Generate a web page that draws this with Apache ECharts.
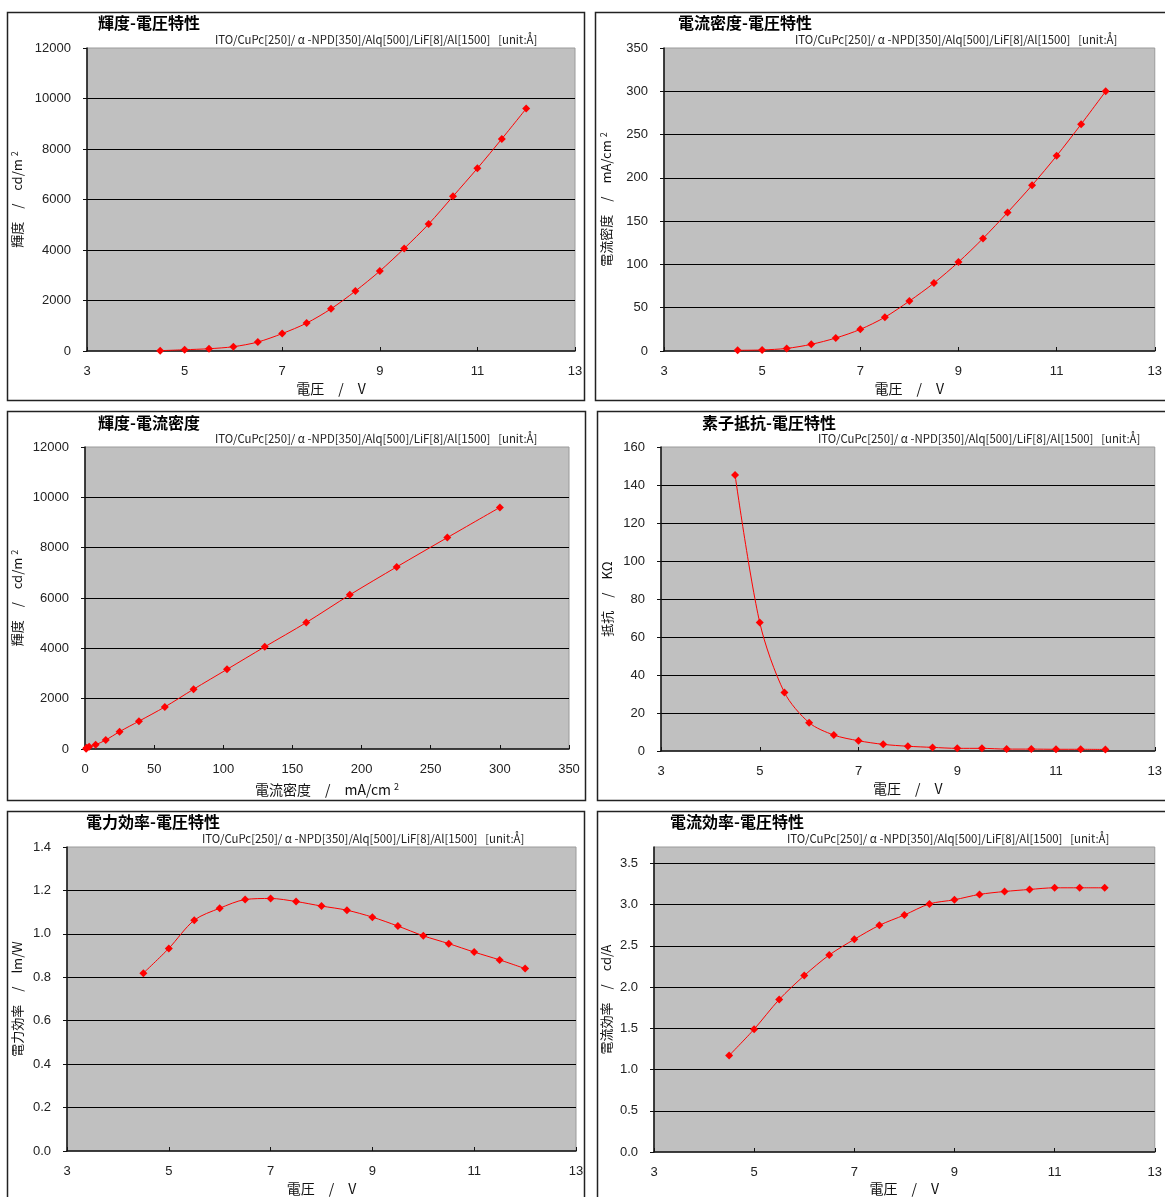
<!DOCTYPE html>
<html><head><meta charset="utf-8">
<script src="https://cdn.jsdelivr.net/npm/echarts@6/dist/echarts.min.js"></script>
<style>html,body{margin:0;padding:0;background:#fff;}#c{width:1165px;height:1197px;}</style>
</head><body><div id="c"></div>
<script>
// ---- data ----
const voltage = [4.5, 5, 5.5, 6, 6.5, 7, 7.5, 8, 8.5, 9, 9.5, 10, 10.5, 11, 11.5, 12];
const luminance = [13, 50, 90, 170, 355, 690, 1105, 1670, 2375, 3165, 4060, 5025, 6125, 7235, 8400, 9600];
const currentDensity = [0.8, 1.2, 3, 7.7, 15, 25, 39, 57.7, 78.5, 102.7, 130, 160, 191.5, 225.4, 262, 300];
const resistance = [145.3, 67.6, 30.8, 14.9, 8.4, 5.4, 3.5, 2.5, 1.9, 1.4, 1.4, 1.0, 1.0, 0.9, 0.9, 0.8];
const powerEff = [0.819, 0.933, 1.063, 1.118, 1.158, 1.163, 1.149, 1.128, 1.109, 1.077, 1.036, 0.991, 0.955, 0.916, 0.880, 0.840];
const currentEff = [1.17, 1.49, 1.85, 2.14, 2.39, 2.58, 2.75, 2.875, 3.01, 3.06, 3.125, 3.16, 3.185, 3.205, 3.205, 3.205];

const titles = ['輝度-電圧特性', '電流密度-電圧特性', '輝度-電流密度', '素子抵抗-電圧特性', '電力効率-電圧特性', '電流効率-電圧特性'];
const subtitle = 'ITO/CuPc[250]/ α -NPD[350]/Alq[500]/LiF[8]/Al[1500]   [unit:Å]';
const yNames = ['輝度　/　cd/m{s|2}', '電流密度　/　mA/cm{s|2}', '輝度　/　cd/m{s|2}', '抵抗　/　KΩ', '電力効率　/　lm/W', '電流効率　/　cd/A'];
const xNames = ['電圧　/　V', '電圧　/　V', '電流密度　/　mA/cm{s|2}', '電圧　/　V', '電圧　/　V', '電圧　/　V'];

const pairs = (xs, ys) => xs.map((x, i) => [x, ys[i]]);
const seriesData = [
  pairs(voltage, luminance),
  pairs(voltage, currentDensity),
  pairs(currentDensity, luminance),
  pairs(voltage, resistance),
  pairs(voltage, powerEff),
  pairs(voltage, currentEff)
];

// ---- layout ----
const grids = [
  {left: 87, top: 48, width: 488, height: 303},
  {left: 664, top: 48, width: 498, height: 303},
  {left: 85, top: 447, width: 484, height: 302},
  {left: 661, top: 447, width: 505, height: 304},
  {left: 67, top: 847, width: 509, height: 304},
  {left: 654, top: 847, width: 510, height: 305}
];
const xRanges = [[3,13,2],[3,13,2],[0,350,50],[3,13,2],[3,13,2],[3,13,2]];
const yRanges = [[0,12000,2000],[0,350,50],[0,12000,2000],[0,160,20],[0,1.4,0.2],[0,3.7,0.5]];
const yDec = [0,0,0,0,1,1];
const yNameGap = [62, 50, 60, 47, 43, 41];
const xNameGap = [31, 31, 33, 31, 31, 30];
const frames = [[7,12,577,388],[595,12,590,388],[7,411,578,389],[597,411,590,389],[7,811,577,400],[597,811,590,400]];
const titlePos = [[98,23],[678,23],[98,423],[702,423],[86,822],[670,822]];
const subPos = [[215,40],[795,40],[215,439],[818,439],[202,839],[787,839]];

const cjk = '"Noto Sans CJK JP", sans-serif';
const num = '"Liberation Sans", Arial, sans-serif';
const rich = {s: {fontSize: 9, fontFamily: cjk, verticalAlign: 'top', padding: [0, 0, 6, 3], color: '#111'}};

const option = {
  backgroundColor: '#fff',
  animation: false,
  grid: grids.map(g => Object.assign({show: true, backgroundColor: '#C0C0C0', borderColor: '#9a9a9a', borderWidth: 1}, g)),
  xAxis: xRanges.map((r, i) => ({
    type: 'value', gridIndex: i, min: r[0], max: r[1], interval: r[2],
    name: xNames[i], nameLocation: 'middle', nameGap: xNameGap[i],
    nameTextStyle: {fontFamily: cjk, fontSize: 14, color: '#111', rich: rich},
    axisLine: {show: true, lineStyle: {color: '#111', width: 1.5}},
    axisTick: {show: true, inside: true, length: 4, lineStyle: {color: '#111'}},
    axisLabel: {fontFamily: num, fontSize: 13, color: '#222', margin: 14},
    splitLine: {show: false}
  })),
  yAxis: yRanges.map((r, i) => ({
    type: 'value', gridIndex: i, min: r[0], max: r[1], interval: r[2],
    name: yNames[i], nameLocation: 'middle', nameGap: yNameGap[i],
    nameTextStyle: {fontFamily: cjk, fontSize: 13, color: '#111', rich: rich},
    axisLine: {show: true, lineStyle: {color: '#111', width: 1.5}},
    axisTick: {show: true, inside: false, length: 4, lineStyle: {color: '#111'}},
    axisLabel: {fontFamily: num, fontSize: 13, color: '#222', margin: 16, showMaxLabel: i === 5 ? false : true,
      formatter: v => yDec[i] ? v.toFixed(yDec[i]) : String(v)},
    splitLine: {show: true, showMaxLine: false, showMinLine: false, lineStyle: {color: '#000', width: 1}}
  })),
  series: seriesData.map((d, i) => ({
    type: 'line', xAxisIndex: i, yAxisIndex: i, data: d,
    smooth: 0.3, symbol: 'diamond', symbolSize: 8,
    lineStyle: {color: '#FF0000', width: 1},
    itemStyle: {color: '#FF0000'}
  })),
  graphic: [].concat(
    frames.map(f => ({type: 'rect', z: 100, silent: true, shape: {x: f[0] + 0.5, y: f[1] + 0.5, width: f[2], height: f[3]},
      style: {fill: 'rgba(0,0,0,0)', stroke: '#222', lineWidth: 1.5}})),
    titles.map((t, i) => ({type: 'text', z: 100, x: titlePos[i][0], y: titlePos[i][1],
      style: {text: t, font: 'bold 16px ' + cjk, fill: '#000', align: 'left', verticalAlign: 'middle', textAlign: 'left', textVerticalAlign: 'middle'}})),
    subPos.map(p => ({type: 'text', z: 100, x: p[0], y: p[1],
      style: {text: subtitle, font: '11.4px ' + cjk, fill: '#222', align: 'left', verticalAlign: 'middle', textAlign: 'left', textVerticalAlign: 'middle'}}))
  )
};
const chart = echarts.init(document.getElementById('c'), null, {renderer: 'canvas'});
chart.setOption(option);
</script>
</body></html>
